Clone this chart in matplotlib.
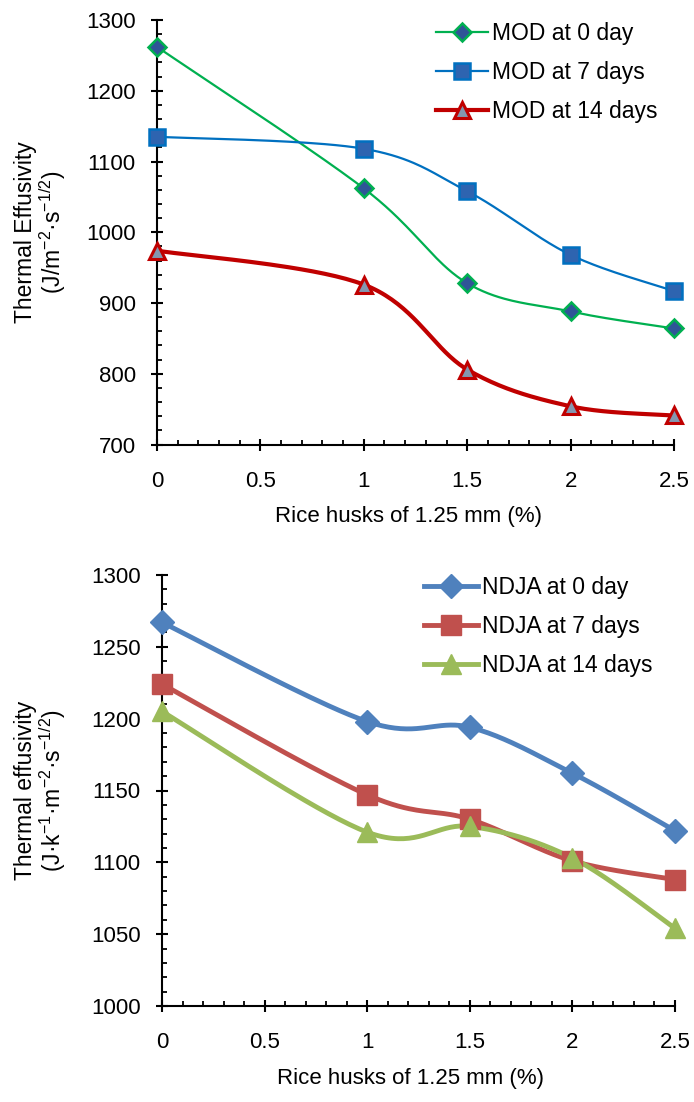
import numpy as np
import matplotlib
matplotlib.use("Agg")
import matplotlib.pyplot as plt
from matplotlib.ticker import MultipleLocator
from matplotlib.lines import Line2D

plt.rcParams['font.family'] = ['Liberation Sans', 'DejaVu Sans']
plt.rcParams['mathtext.fontset'] = 'custom'
plt.rcParams['mathtext.rm'] = 'Liberation Sans'
plt.rcParams['mathtext.it'] = 'Liberation Sans:italic'

x = [0, 1, 1.5, 2, 2.5]
mod_0 = [1262, 1062, 928, 888, 864]
mod_7 = [1135, 1118, 1058, 968, 917]
mod_14 = [974, 926, 806, 754, 741]
ndja_0 = [1267, 1198, 1194, 1162, 1122]
ndja_7 = [1224, 1147, 1130, 1101, 1088]
ndja_14 = [1205, 1121, 1125, 1103, 1054]
mod_labels = ["MOD at 0 day", "MOD at 7 days", "MOD at 14 days"]
ndja_labels = ["NDJA at 0 day", "NDJA at 7 days", "NDJA at 14 days"]
xlabel = "Rice husks of 1.25 mm (%)"
xtick_vals = [0, 0.5, 1, 1.5, 2, 2.5]
xtick_labels = ['0', '0.5', '1', '1.5', '2', '2.5']


def smooth(xs, ys, n=40):
    P = np.column_stack([xs, ys]).astype(float)
    Pe = np.vstack([P[0], P, P[-1]])
    out = []
    t = np.linspace(0, 1, n)[:, None]
    for i in range(len(P) - 1):
        p0, p3 = Pe[i + 1], Pe[i + 2]
        c1 = p0 + (Pe[i + 2] - Pe[i]) / 6
        c2 = p3 - (Pe[i + 3] - Pe[i + 1]) / 6
        seg = (1 - t) ** 3 * p0 + 3 * (1 - t) ** 2 * t * c1 + 3 * (1 - t) * t ** 2 * c2 + t ** 3 * p3
        out.append(seg if i == 0 else seg[1:])
    S = np.vstack(out)
    return S[:, 0], S[:, 1]


def style_axes(ax, ymin, ymax, ymaj, ymin_step):
    ax.set_xlim(0, 2.5)
    ax.set_ylim(ymin, ymax)
    for s in ['top', 'right']:
        ax.spines[s].set_visible(False)
    for s in ['left', 'bottom']:
        ax.spines[s].set_linewidth(1.5)
        ax.spines[s].set_color('black')
    ax.xaxis.set_minor_locator(MultipleLocator(0.1))
    ax.yaxis.set_major_locator(MultipleLocator(ymaj))
    ax.yaxis.set_minor_locator(MultipleLocator(ymin_step))
    ax.tick_params(which='major', direction='inout', length=8.5, width=1.5, labelsize=16)
    ax.tick_params(which='minor', direction='in', length=3.8, width=1.3)
    ax.tick_params(axis='y', which='major', pad=11)
    ax.tick_params(axis='x', which='major', pad=14.5)
    ax.set_xticks(xtick_vals)
    ax.set_xticklabels(xtick_labels)
    ax.set_xlabel(xlabel, fontsize=16)
    ax.patch.set_visible(False)


fig = plt.figure(figsize=(6.94, 11.02), dpi=100)

# Top chart
ax1 = fig.add_axes([157 / 694, 1 - 444.5 / 1102, 517 / 694, 424.5 / 1102])
specs1 = [
    (mod_0, '#00B050', 1.6, 'D', 9, '#2F5597', '#00B050', 1.8),
    (mod_7, '#0070C0', 1.6, 's', 11, '#2E64B0', '#0070C0', 1.8),
    (mod_14, '#C00000', 3.0, '^', 12, '#8497B0', '#C00000', 2.2),
]
handles = []
for (ys, c, lw, m, ms, fc, ec, mew), lab in zip(specs1, mod_labels):
    sx, sy = smooth(x, ys)
    ax1.plot(sx, sy, color=c, lw=lw, zorder=3, clip_on=False)
    ax1.plot(x, ys, ls='none', marker=m, ms=ms, mfc=fc, mec=ec, mew=mew, zorder=4, clip_on=False)
    handles.append(Line2D([], [], color=c, lw=lw, marker=m, ms=ms, mfc=fc, mec=ec, mew=mew))
style_axes(ax1, 700, 1300, 100, 20)
ax1.xaxis.set_label_coords(0.486, -0.145)
ax1.set_ylabel("Thermal Effusivity\n(J/m$^{-2}$·s$^{-1/2}$)", fontsize=16.5, linespacing=1.0)
ax1.yaxis.set_label_coords(-0.172, 0.5)
ax1.legend(handles, mod_labels, loc='upper left', bbox_to_anchor=(0.499, 1.043), frameon=False,
           fontsize=16.5, handlelength=2.27, handletextpad=0.2, labelspacing=0.7)

# Bottom chart
ax2 = fig.add_axes([162 / 694, 1 - 1006 / 1102, 513 / 694, 431 / 1102])
specs2 = [
    (ndja_0, '#4F81BD', 3.5, 'D', 12, '#4F81BD', '#4F81BD', 1.0),
    (ndja_7, '#C0504D', 3.5, 's', 14, '#C0504D', '#C0504D', 1.0),
    (ndja_14, '#9BBB59', 3.5, '^', 15, '#9BBB59', '#9BBB59', 1.0),
]
handles2 = []
for (ys, c, lw, m, ms, fc, ec, mew), lab in zip(specs2, ndja_labels):
    sx, sy = smooth(x, ys)
    ax2.plot(sx, sy, color=c, lw=lw, zorder=3, clip_on=False)
    ax2.plot(x, ys, ls='none', marker=m, ms=ms, mfc=fc, mec=ec, mew=mew, zorder=4, clip_on=False)
    handles2.append(Line2D([], [], color=c, lw=lw, marker=m, ms=ms, mfc=fc, mec=ec, mew=mew))
style_axes(ax2, 1000, 1300, 50, 10)
ax2.xaxis.set_label_coords(0.484, -0.145)
ax2.set_ylabel("Thermal effusivity\n(J·k$^{-1}$·m$^{-2}$·s$^{-1/2}$)", fontsize=16.5, linespacing=1.0)
ax2.yaxis.set_label_coords(-0.183, 0.5)
ax2.legend(handles2, ndja_labels, loc='upper left', bbox_to_anchor=(0.47, 1.045), frameon=False,
           fontsize=16.5, handlelength=2.35, handletextpad=0.2, labelspacing=0.7)

fig.savefig("out.png", dpi=100)
